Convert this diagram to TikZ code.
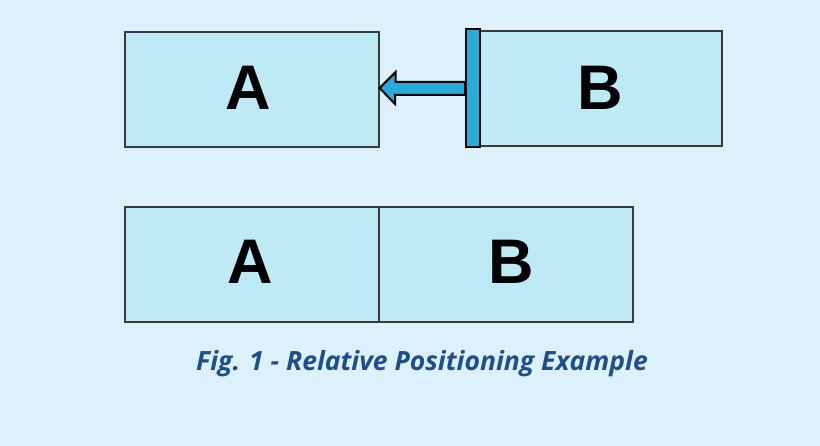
\documentclass[tikz,border=0pt]{standalone}
\usepackage{fontspec}
\setmainfont{Liberation Sans}
\newfontfamily\capfont{Open Sans}
\usetikzlibrary{calc}
\definecolor{bg}{HTML}{DDF1FC}
\definecolor{boxfill}{HTML}{BDEAF5}
\definecolor{boxline}{HTML}{3A3A3A}
\definecolor{barfill}{HTML}{2AAAD6}
\definecolor{capcol}{HTML}{1D4F8C}
\tikzset{
  box/.style={draw=boxline, fill=boxfill, line width=1.2pt, minimum width=254pt, minimum height=115pt, inner sep=0pt, font=\fontsize{62}{62}\selectfont\bfseries, text=black},
  barstyle/.style={draw=black, fill=barfill, line width=2pt, minimum width=14pt, minimum height=118pt, inner sep=0pt},
  arrowshape/.style={draw=black, fill=barfill, line width=2pt, line join=miter}
}
\begin{document}
\begin{tikzpicture}[x=1pt,y=-1pt]
\fill[bg] (0,0) rectangle (820,446);
\useasboundingbox (0,0) rectangle (820,446);
% top row
\node[box] (A1) at (252,89.5) {};
\node at (248,88) {\fontsize{63}{63}\selectfont\bfseries A};
\node[box, minimum width=242pt] (B1) at (601,88.5) {};
\node at (600,88) {\fontsize{63}{63}\selectfont\bfseries B};
\node[barstyle] (bar) at (473,88) {};
\draw[arrowshape] ($(A1.east)+(0,-1.5)$) -- ++(16,-16) -- ++(0,10) -- (bar.west |- 0,82) -- (bar.west |- 0,95) -- (395,95) -- (395,104) -- cycle;
% bottom row
\node[box] (A2) at (252,264.5) {};
\node at (250,262) {\fontsize{63}{63}\selectfont\bfseries A};
\node[box] (B2) at (506,264.5) {};
\node at (511,262) {\fontsize{63}{63}\selectfont\bfseries B};
% caption
\node[text=capcol, font=\capfont\fontsize{26.5}{26.5}\selectfont\bfseries\itshape] (cap) at (422,364) {Fig. 1 - Relative Positioning Example};
\end{tikzpicture}
\end{document}
